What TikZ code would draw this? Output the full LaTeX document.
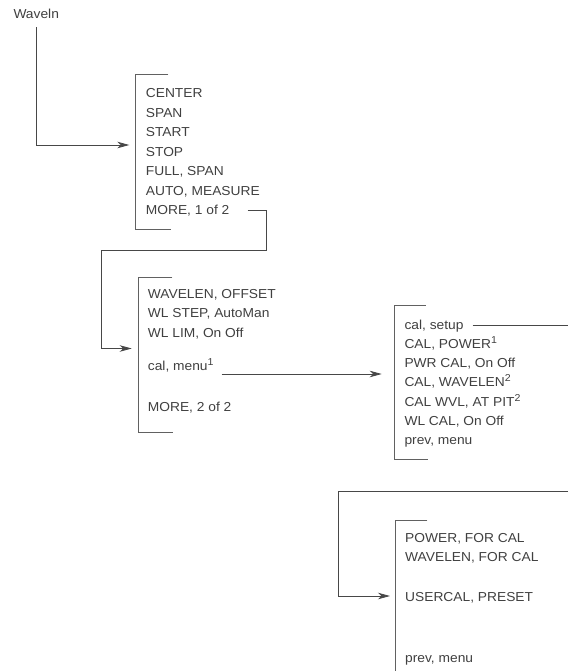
\documentclass[tikz,border=0pt]{standalone}
\usepackage{fontspec}
\setmainfont[FakeStretch=1.06]{Liberation Sans}
\usetikzlibrary{arrows.meta}

\begin{document}
\begin{tikzpicture}[x=1pt,y=-1pt,
  item/.style={anchor=base west,inner sep=2pt,text=black!75,font=\fontsize{13}{15}\selectfont},
  bracket/.style={draw=black!62,line width=0.8pt},
  wire/.style={draw=black!72,line width=0.8pt},
  link/.style={wire,-{Stealth[length=12pt,width=6.5pt,inset=3.5pt]}}]
\useasboundingbox (0,0) rectangle (568,671);

\coordinate (edge) at (568,0);
\coordinate (m1in) at (129.3,145);
\coordinate (turn1) at (266,250);
\coordinate (left1) at (101.7,250);
\coordinate (m2in) at (131.7,348.5);
\coordinate (calin) at (381.7,374);
\coordinate (back) at (568,491);
\coordinate (bend) at (338.3,491);
\coordinate (usrin) at (390,596);

\node[item] (waveln) at (11.3,18.6) {Waveln};

\begin{scope}
\draw[bracket] (168.3,74) -- (135.7,74) -- (135.7,229) -- (170.7,229);
\node[item] (ctr) at (143.7,97.6) {CENTER};
\node[item] (spn) at (143.7,117.1) {SPAN};
\node[item] (sta) at (143.7,136.6) {START};
\node[item] (stp) at (143.7,156.1) {STOP};
\node[item] (full) at (143.7,175.6) {FULL, SPAN};
\node[item] (auto) at (143.7,195.1) {AUTO, MEASURE};
\node[item] (more1) at (143.7,214.6) {MORE, 1 of 2};
\end{scope}

\begin{scope}
\draw[bracket] (172.3,277.3) -- (138.3,277.3) -- (138.3,432.7) -- (172.7,432.7);
\node[item] (wloff) at (145.7,298.6) {WAVELEN, OFFSET};
\node[item] (wlstep) at (145.7,317.9) {WL STEP, AutoMan};
\node[item] (wllim) at (145.7,337.3) {WL LIM, On Off};
\node[item] (calmenu) at (145.7,370) {cal, menu\raisebox{5pt}{\fontsize{10}{10}\selectfont 1}};
\node[item] (more2) at (145.7,411.6) {MORE, 2 of 2};
\end{scope}

\begin{scope}
\draw[bracket] (425.7,305.7) -- (394.3,305.7) -- (394.3,459) -- (427.7,459);
\node[item] (calsetup) at (402.3,329) {cal, setup};
\node[item] (calpow) at (402.3,348.6) {CAL, POWER\raisebox{5pt}{\fontsize{10}{10}\selectfont 1}};
\node[item] (pwrcal) at (402.3,367.9) {PWR CAL, On Off};
\node[item] (calwl) at (402.3,386.9) {CAL, WAVELEN\raisebox{5pt}{\fontsize{10}{10}\selectfont 2}};
\node[item] (calpit) at (402.3,406.3) {CAL WVL, AT PIT\raisebox{5pt}{\fontsize{10}{10}\selectfont 2}};
\node[item] (wlcal) at (402.3,425.3) {WL CAL, On Off};
\node[item] (prev1) at (402.3,444.8) {prev, menu};
\end{scope}

\begin{scope}
\draw[bracket] (427.3,520) -- (395.7,520) -- (395.7,671);
\node[item] (powcal) at (403,542.9) {POWER, FOR CAL};
\node[item] (wlfor) at (403,561.9) {WAVELEN, FOR CAL};
\node[item] (usrcal) at (403,601.3) {USERCAL, PRESET};
\node[item] (prev2) at (403,662) {prev, menu};
\end{scope}

\draw[link] (waveln.south) ++(0,6.5) |- (m1in);
\draw[link] ([xshift=16pt]more1.east) -| (turn1) -- (left1) |- (m2in);
\draw[link] ([xshift=6pt,yshift=-4pt]calmenu.base east) -- (calin);
\draw[wire] ([xshift=7pt]calsetup.east) -- (calsetup.east -| edge);
\draw[link] (back) -- (bend) |- (usrin);

\end{tikzpicture}
\end{document}
